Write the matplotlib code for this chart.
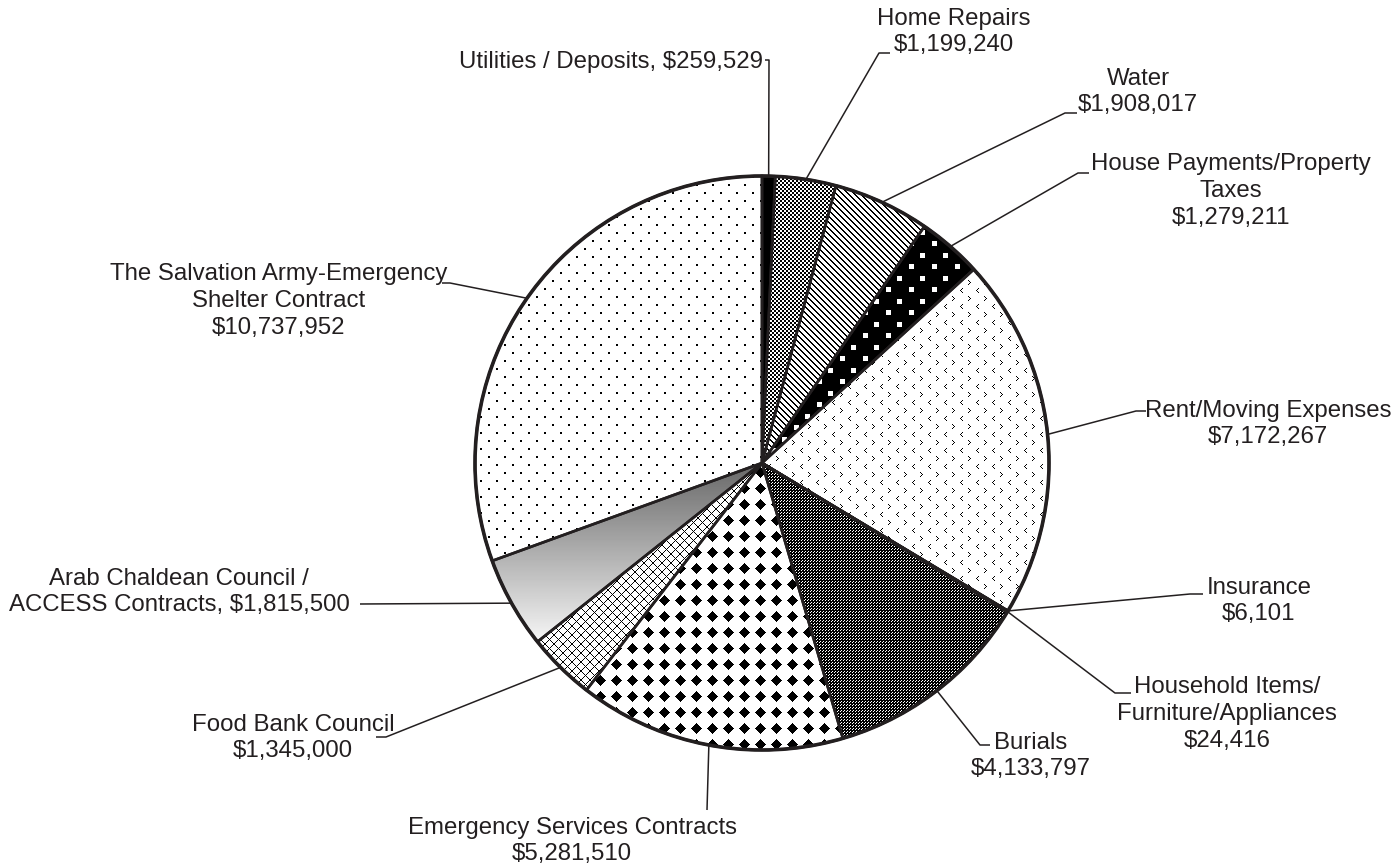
import numpy as np
import matplotlib.pyplot as plt
from matplotlib.patches import Circle

#-----Data (clockwise from 12 o'clock)
categories = ['Utilities / Deposits', 'Home Repairs', 'Water',
              'House Payments/Property\nTaxes', 'Rent/Moving Expenses', 'Insurance',
              'Household Items/\nFurniture/Appliances', 'Burials',
              'Emergency Services Contracts', 'Food Bank Council',
              'Arab Chaldean Council /\nACCESS Contracts',
              'The Salvation Army-Emergency\nShelter Contract']
amounts = [259529, 1199240, 1908017, 1279211, 7172267, 6101, 24416,
           4133797, 5281510, 1345000, 1815500, 10737952]
separators = [', ', '\n', '\n', '\n', '\n', '\n', '\n', '\n', '\n', '\n', ', ', '\n']

#-----Layout (pixel positions, y from the top)
W, H = 1395, 865
cx, cy, R = 762, 463, 287
label_xy = [(763, 62), (954, 32), (1138, 92), (1231, 191), (1268, 424), (1259, 601),
            (1227, 714), (1031, 756), (572, 841), (293, 738), (179, 592), (279, 301)]
label_ha = ['right'] + ['center'] * 11
# elbow and end point of each leader line
leaders = [[(769, 60), (765, 60)], [(879, 53), (890, 53)], [(1065, 113), (1077, 113)],
           [(1078, 173), (1089, 173)], [(1136, 411), (1146, 411)], [(1190, 594), (1203, 594)],
           [(1115, 693), (1131, 693)], [(980, 745), (990, 745)], [(707, 810), (707, 810)],
           [(386, 737), (376, 737)], [(360, 604), (360, 604)], [(450, 283), (442, 283)]]

ink = '#231f20'
plt.rcParams['font.family'] = ['Liberation Sans', 'DejaVu Sans']

#-----Fill patterns, one per slice (1 = white, 0 = black)
yy, xx = np.mgrid[0:H, 0:W]
def tile_mask(tile, ph, pw):
    t = np.zeros((ph, pw), bool)
    t[:tile.shape[0], :tile.shape[1]] = tile
    return np.tile(t, (H // ph + 1, W // pw + 1))[:H, :W]

lt = np.array([[0, 0, 1], [0, 1, 0], [1, 0, 0], [0, 1, 0], [0, 0, 1]], bool)
gt = lt[:, ::-1]
chev = tile_mask(lt, 16, 16) | np.roll(np.roll(tile_mask(gt, 16, 16), 8, axis=0), 8, axis=1)
dark_check = ((xx % 3 == 0) & (yy % 3 == 0)) | ((xx % 3 == 1) & (yy % 3 == 2))

patterns = [
    np.zeros((H, W)),                                                   # utilities: solid
    ((xx // 2 + yy // 2) % 2).astype(float),                            # home repairs: checker
    (((xx - yy) % 6) >= 2).astype(float),                               # water: diagonal lines
    ((((xx % 23) < 5) & ((yy % 23) < 5)) |
     ((((xx + 11) % 23) < 5) & (((yy + 12) % 23) < 5))).astype(float),  # house payments
    (~chev).astype(float),                                              # rent: chevrons
    dark_check.astype(float),                                           # insurance
    dark_check.astype(float),                                           # household items
    dark_check.astype(float),                                           # burials
    ((np.abs(xx % 16 - 8) + np.abs(yy % 16 - 8)) > 5).astype(float),    # emergency: diamonds
    (((xx + yy) % 9 != 0) & ((xx - yy) % 9 != 0)).astype(float),        # food bank: grid
    np.clip((153 + 0.8 * (yy - 525)) / 255.0, 0.35, 0.98),              # arab chaldean: gradient
    ~((yy % 8 < 2) & (((xx + ((yy // 8) % 2) * 8) % 16) < 2)),          # salvation army: dots
]

#-----Figure
fig = plt.figure(figsize=(W / 100, H / 100), dpi=100)
ax = fig.add_axes([0, 0, 1, 1])

wedges, _ = ax.pie(amounts, startangle=90, counterclock=False, center=(cx, H - cy),
                   radius=R, colors=['white'] * len(amounts),
                   wedgeprops=dict(linewidth=0, edgecolor='none'))
for w, pat in zip(wedges, patterns):
    im = ax.imshow(pat.astype(float), cmap='gray', vmin=0, vmax=1, extent=(0, W, 0, H),
                   origin='upper', interpolation='nearest', zorder=2)
    im.set_clip_path(w)
# slice outlines on top of the fills
ax.pie(amounts, startangle=90, counterclock=False, center=(cx, H - cy), radius=R,
       wedgeprops=dict(fill=False, linewidth=1.9, edgecolor=ink, zorder=3))
ax.add_patch(Circle((cx, H - cy), R, fill=False, linewidth=2.6, edgecolor=ink, zorder=4))

#-----Labels and leader lines
for w, name, sep, v, (tx, ty), ha, pts in zip(wedges, categories, separators, amounts,
                                               label_xy, label_ha, leaders):
    mid = np.deg2rad((w.theta1 + w.theta2) / 2)
    px, py = cx + R * np.cos(mid), (H - cy) + R * np.sin(mid)
    xs = [px] + [p[0] for p in pts]
    ys = [py] + [H - p[1] for p in pts]
    ax.plot(xs, ys, color=ink, linewidth=1.1, zorder=5, solid_capstyle='butt')
    ax.text(tx, H - ty, name + sep + f'${v:,}', ha=ha, va='center', fontsize=17.3,
            color=ink, linespacing=1.27, multialignment='center')

ax.set_xlim(0, W)
ax.set_ylim(0, H)
ax.set_aspect('equal')
ax.axis('off')

plt.savefig('out.png', dpi=100, facecolor='white')
